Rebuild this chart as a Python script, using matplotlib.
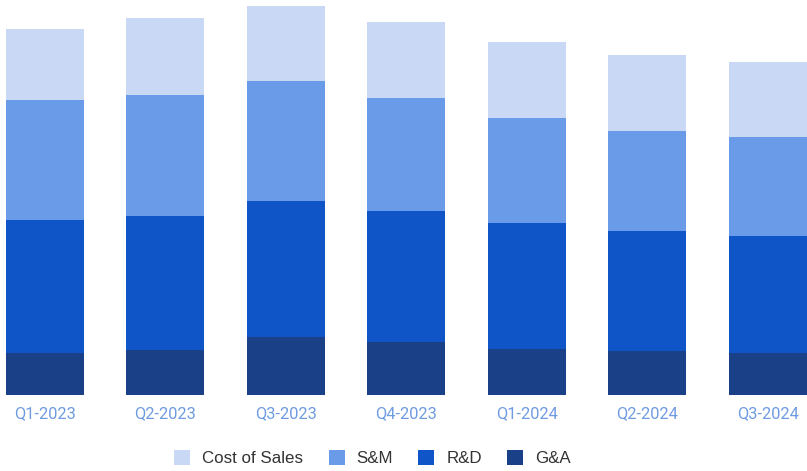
import numpy as np
import matplotlib
matplotlib.use("Agg")
import matplotlib.pyplot as plt
from matplotlib.patches import Patch

quarters = ["Q1-2023", "Q2-2023", "Q3-2023", "Q4-2023", "Q1-2024", "Q2-2024", "Q3-2024"]
ga = [42.3, 45.0, 58.0, 53.0, 46.3, 44.0, 42.3]
rd = [132.7, 134.3, 135.7, 130.7, 125.4, 119.7, 116.4]
sm = [119.7, 120.4, 120.6, 113.3, 105.3, 100.3, 99.3]
cos = [71.0, 77.6, 75.0, 76.0, 76.0, 76.0, 75.3]

series = [("G&A", ga, "#1a4087"),
          ("R&D", rd, "#1055c8"),
          ("S&M", sm, "#6a9be8"),
          ("Cost of Sales", cos, "#c8d8f5")]

fig = plt.figure(figsize=(8.07, 4.71), dpi=100)
ax = fig.add_axes([5.5 / 807, 76 / 471, 1 - 5.5 / 807, 395 / 471])

x = np.arange(len(quarters))
bottom = np.zeros(len(quarters))
for name, vals, col in series:
    ax.bar(x, vals, width=0.65, bottom=bottom, color=col, linewidth=0)
    bottom += np.array(vals)

ax.set_xlim(-0.325, len(quarters) - 1 + 0.325)
ax.set_ylim(0, 395)
ax.set_yticks([])
ax.set_xticks(x)
ax.set_xticklabels(quarters, fontsize=11.8, color="#6e9be1", family="Roboto")
ax.tick_params(axis="x", length=0, pad=8)
for s in ax.spines.values():
    s.set_visible(False)

handles = [Patch(facecolor=col, label=name) for name, vals, col in reversed(series)]
fig.legend(handles=handles, loc="center", bbox_to_anchor=(372.5 / 807, 1 - 458 / 471),
           ncol=4, frameon=False, prop={"family": "Liberation Sans", "size": 12.2},
           labelcolor="#333333", handlelength=0.95, handleheight=0.95,
           handletextpad=0.7, columnspacing=1.5)

fig.savefig("out.png", dpi=100)
